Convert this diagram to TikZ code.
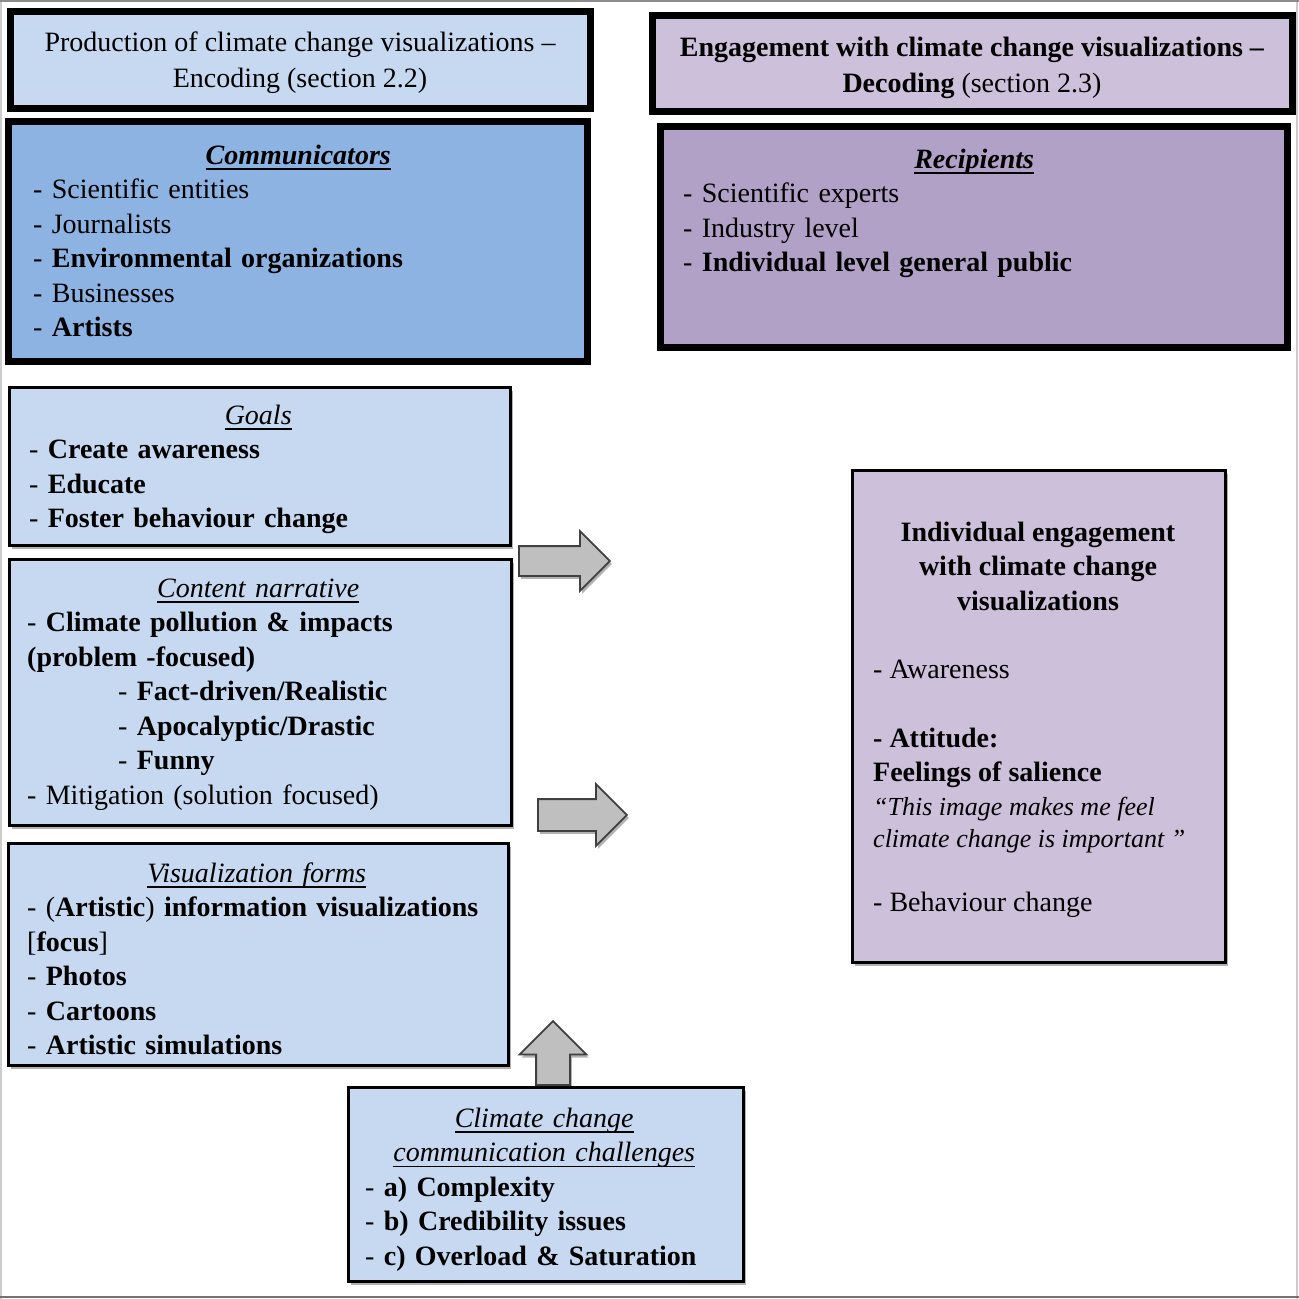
\documentclass[tikz,border=0pt]{standalone}
\usepackage{fontspec}
\setmainfont{Liberation Serif}
\usetikzlibrary{shapes.arrows,shadows}
\definecolor{lblue}{HTML}{C6D9F1}
\definecolor{mblue}{HTML}{8DB3E2}
\definecolor{llav}{HTML}{CCC0DA}
\definecolor{mlav}{HTML}{B2A1C7}
\definecolor{agray}{HTML}{BFBFBF}
\definecolor{aedge}{HTML}{404040}
\newsavebox{\myulbox}
\newcommand{\myul}[1]{\sbox{\myulbox}{#1}\rlap{\rule[-5.5pt]{\wd\myulbox}{1.6pt}}\usebox{\myulbox}}
\newcommand{\ttl}[1]{\mbox{}\hspace*{\fill}\myul{#1}\hspace*{\fill}\mbox{}}
\tikzset{
  boxshadow/.style={drop shadow={shadow xshift=2pt,shadow yshift=-3pt,opacity=.3,fill=black}},
  thickbox/.style={draw=black,line width=7pt,rectangle,inner sep=0pt,anchor=north west,boxshadow},
  thinbox/.style={draw=black,line width=3pt,rectangle,inner sep=0pt,anchor=north west,boxshadow},
  txt/.style={inner sep=0pt,font=\fontsize{28}{34.5}\selectfont,align=left},
  ctxt/.style={inner sep=0pt,font=\fontsize{28}{36}\selectfont,align=center},
  qtxt/.style={inner sep=0pt,font=\fontsize{26}{32}\selectfont\itshape,align=left},
  blockarrow/.style={single arrow,draw=aedge,fill=agray,line width=1.8pt,inner xsep=0pt,
    single arrow head indent=0pt,boxshadow},
}
\begin{document}
\begin{tikzpicture}[x=1pt,y=-1pt]
\useasboundingbox (0,0) rectangle (1299,1299);
% frame
\draw[black!20,line width=2pt] (1,0) -- (1,1299);
\draw[black!20,line width=2pt] (1297,0) -- (1297,1299);
\draw[black!45,line width=2pt] (0,1) -- (1299,1);
\draw[black!55,line width=2pt] (0,1297) -- (1299,1297);

% boxes
\node[thickbox,fill=lblue,minimum width=580pt,minimum height=97pt] (prod) at (7,8) {};
\node[thickbox,fill=mblue,minimum width=579pt,minimum height=240pt] (comm) at (5,118) {};
\node[thickbox,fill=llav,minimum width=640pt,minimum height=96pt] (eng) at (649,12) {};
\node[thickbox,fill=mlav,minimum width=627pt,minimum height=221pt] (recip) at (657,123) {};
\node[thinbox,fill=lblue,minimum width=501pt,minimum height=158pt] (goals) at (8,386) {};
\node[thinbox,fill=lblue,minimum width=502pt,minimum height=266pt] (content) at (8,558) {};
\node[thinbox,fill=lblue,minimum width=500pt,minimum height=222pt] (vis) at (7,842) {};
\node[thinbox,fill=lblue,minimum width=395pt,minimum height=194pt] (chall) at (347,1086) {};
\node[thinbox,fill=llav,minimum width=373pt,minimum height=492pt] (indiv) at (851,469) {};

% texts
\node[ctxt,anchor=north] (prodT) at (300,25.8)
  {\strut Production of climate change visualizations –\\Encoding (section 2.2)};
\node[ctxt,anchor=north] (engT) at (972,30.8)
  {\strut\textbf{Engagement with climate change visualizations –}\\\textbf{Decoding} (section 2.3)};
\node[txt,text width=530pt,anchor=north west] (commT) at (33,139.85)
  {\strut\ttl{\textbf{\textit{Communicators}}}\\- Scientific entities\\- Journalists\\- \textbf{Environmental organizations}\\- Businesses\\- \textbf{Artists}};
\node[txt,text width=582pt,anchor=north west] (recipT) at (683,143.85)
  {\strut\ttl{\textbf{\textit{Recipients}}}\\- Scientific experts\\- Industry level\\- \textbf{Individual level general public}};
\node[txt,text width=458pt,anchor=north west] (goalsT) at (29,399.85)
  {\strut\ttl{\textit{Goals}}\\- \textbf{Create awareness}\\- \textbf{Educate}\\- \textbf{Foster behaviour change}};
\node[txt,text width=462pt,anchor=north west] (contentT) at (27,572.85)
  {\strut\ttl{\textit{Content narrative}}\\- \textbf{Climate pollution \& impacts}\\\textbf{(problem -focused)}\\
   \hspace*{91pt}- \textbf{Fact-driven/Realistic}\\\hspace*{91pt}- \textbf{Apocalyptic/Drastic}\\\hspace*{91pt}- \textbf{Funny}\\
   - Mitigation (solution focused)};
\node[txt,text width=459pt,anchor=north west] (visT) at (27,857.85)
  {\strut\ttl{\textit{Visualization forms}}\\- (\textbf{Artistic}) \textbf{information visualizations}\\{[}\textbf{focus}{]}\\
   - \textbf{Photos}\\- \textbf{Cartoons}\\- \textbf{Artistic simulations}};
\node[txt,text width=358pt,anchor=north west] (challT) at (365,1102.85)
  {\strut\ttl{\textit{Climate change}}\\\ttl{\textit{communication challenges}}\\- \textbf{a) Complexity}\\- \textbf{b) Credibility issues}\\- \textbf{c) Overload \& Saturation}};
\node[txt,align=center,anchor=north] (indivT) at (1038,516.85)
  {\strut\textbf{Individual engagement}\\\textbf{with climate change}\\\textbf{visualizations}};
\node[txt,anchor=base west] (indivA) at (873,678) {- Awareness};
\node[txt,anchor=north west] (indivB) at (873,722.85)
  {\strut\textbf{- Attitude:}\\\textbf{Feelings of salience}};
\node[qtxt,anchor=north west] (indivQ) at (873,792.6)
  {\strut “This image makes me feel\\climate change is important ”};
\node[txt,anchor=base west] (indivC) at (873,911) {- Behaviour change};

% block arrows
\node[blockarrow,minimum height=91pt,inner ysep=14pt,single arrow head extend=15pt,anchor=tail] (arr1) at (518,561) {};
\node[blockarrow,minimum height=89pt,inner ysep=15pt,single arrow head extend=15pt,anchor=tail] (arr2) at (537,815) {};
\node[blockarrow,rotate=90,minimum height=64pt,inner ysep=16pt,single arrow head extend=16.5pt,anchor=tail] (arr3) at (chall.north -| 553,0) {};
\end{tikzpicture}
\end{document}
